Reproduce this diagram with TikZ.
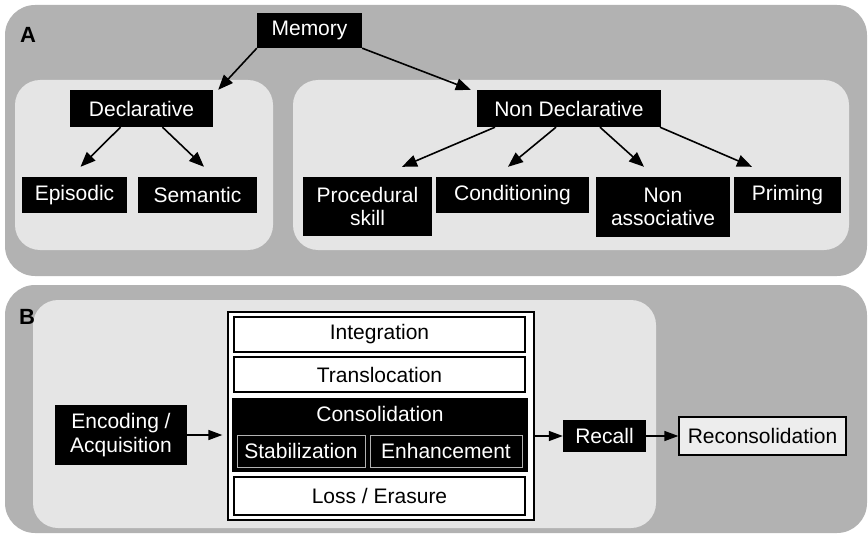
\documentclass[tikz,border=0pt]{standalone}
\usepackage{fontspec}
\setmainfont{Liberation Sans}
\usetikzlibrary{arrows.meta,calc}
\definecolor{panelgray}{gray}{0.70}
\definecolor{panellight}{gray}{0.90}
\definecolor{recfill}{gray}{0.93}
\begin{document}
\begin{tikzpicture}[x=1pt,y=-1pt,
  txt/.style={font=\fontsize{21}{23.5}\selectfont,align=center,inner sep=0pt},
  blk/.style={txt,fill=black,text=white},
  wbox/.style={txt,draw=black,line width=1.3pt,fill=white},
  subbox/.style={txt,draw=gray!60,line width=1pt,fill=black,text=white},
  arr/.style={-{Triangle[length=15pt,width=12pt]},line width=1.6pt},
  arrb/.style={-{Triangle[length=14pt,width=10pt]},line width=1.5pt},
  panel/.style={fill=panelgray,rounded corners=30pt},
  inner/.style={fill=panellight,rounded corners=25pt},
  lbl/.style={font=\fontsize{22}{24}\selectfont\bfseries,inner sep=0pt}
]
\useasboundingbox (0,0) rectangle (868,535);
% panels
\path[panel] (5,5) rectangle (867,276);
\path[panel] (5,285) rectangle (867,533);
\path[inner] (15,80) rectangle (273,250);
\path[inner] (293,80) rectangle (849,250);
\path[inner] (33,300) rectangle (656,528);
\node[lbl] (la) at (28,35) {A};
\node[lbl] (lb) at (27,317) {B};
% panel A nodes
\node[blk,minimum width=105pt,minimum height=35pt] (mem) at (309.5,30.5) {Memory};
\node[blk,minimum width=143pt,minimum height=37pt] (decl) at (141.5,108.5) {Declarative};
\node[blk,minimum width=105pt,minimum height=36pt] (epi) at (74.5,195) {Episodic};
\node[blk,minimum width=119pt,minimum height=36pt] (sem) at (197.5,195) {Semantic};
\node[blk,minimum width=184pt,minimum height=37pt] (nd) at (569,108.5) {Non Declarative};
\node[blk,minimum width=129pt,minimum height=59pt] (proc) at (367.5,206.5) {Procedural\\skill};
\node[blk,minimum width=153pt,minimum height=36pt] (cond) at (512.5,195) {Conditioning};
\node[blk,minimum width=134pt,minimum height=60pt] (nass) at (663,207) {Non\\associative};
\node[blk,minimum width=107pt,minimum height=36pt] (prim) at (787.5,195) {Priming};
% panel A arrows
\draw[arr] (mem.south west) -- ([xshift=5pt]decl.north east);
\draw[arr] (mem.south east) -- ([xshift=-6pt]nd.north west);
\draw[arr] ([xshift=-21pt]decl.south) -- ([xshift=6pt,yshift=10pt]epi.north);
\draw[arr] ([xshift=21pt]decl.south) -- ([xshift=6.5pt,yshift=10pt]sem.north);
\draw[arr] ([xshift=-74pt]nd.south) -- ([xshift=34.5pt,yshift=10pt]proc.north);
\draw[arr] ([xshift=-13pt]nd.south) -- ([xshift=-4.5pt,yshift=10pt]cond.north);
\draw[arr] ([xshift=31pt]nd.south) -- ([xshift=-19pt,yshift=10pt]nass.north);
\draw[arr] ([xshift=91pt]nd.south) -- ([xshift=-35.5pt,yshift=10pt]prim.north);
% panel B
\node[draw=black,line width=1.3pt,fill=white,minimum width=306pt,minimum height=208pt,inner sep=0pt] (frame) at (381,416) {};
\node[wbox,minimum width=291pt,minimum height=35pt] (integ) at (379.5,334.5) {Integration};
\node[wbox,minimum width=291pt,minimum height=35pt] (transl) at (379.5,374.5) {Translocation};
\node[blk,minimum width=296pt,minimum height=74pt] (cons) at (380,435) {};
\node[txt,text=white] (constxt) at (380,414) {Consolidation};
\node[subbox,minimum width=128pt,minimum height=32pt] (stab) at (301,451) {Stabilization};
\node[subbox,minimum width=152pt,minimum height=32pt] (enh) at (446,451) {Enhancement};
\node[wbox,minimum width=291pt,minimum height=38pt] (loss) at (379.5,496) {Loss / Erasure};
\node[blk,minimum width=132pt,minimum height=60pt] (enc) at (121,435) {Encoding /\\Acquisition};
\node[blk,minimum width=83pt,minimum height=32pt] (rec) at (604.5,436) {Recall};
\node[txt,draw=black,line width=1.3pt,fill=recfill,minimum width=167pt,minimum height=38pt] (recon) at (762.5,436) {Reconsolidation};
\draw[arrb,shorten >=5pt] (enc.east) -- (enc.east -| frame.west);
\draw[arrb] (rec.west -| frame.east) -- (rec.west);
\draw[arrb] (rec.east) -- (recon.west);
\end{tikzpicture}
\end{document}
